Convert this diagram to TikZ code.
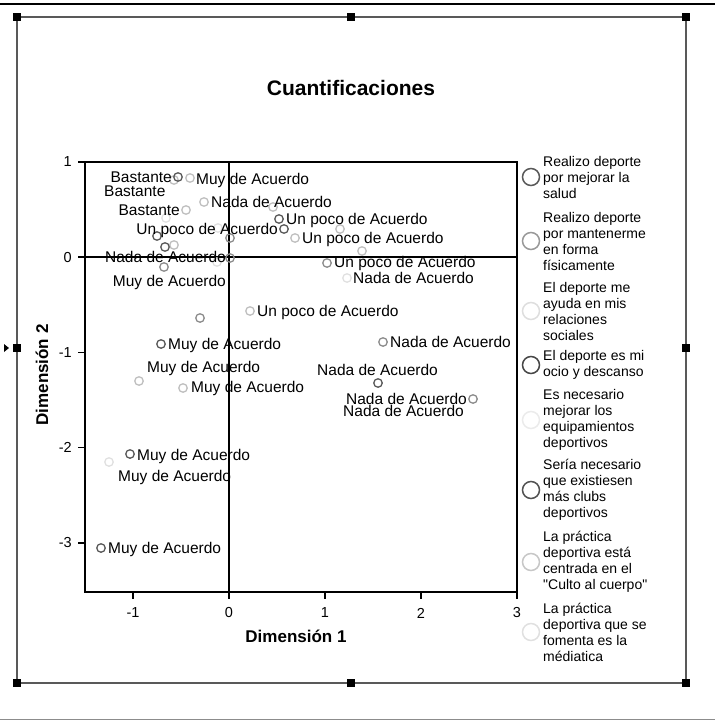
\documentclass[tikz,border=0pt]{standalone}
\usepackage{fontspec}
\setmainfont{Liberation Sans}
\newfontfamily\plainfnt{Liberation Sans}
\newcommand\labfnt{\fontsize{15.5bp}{18bp}\selectfont}
\newcommand\legfnt{\fontsize{14bp}{16bp}\selectfont}
\colorlet{cD}{black!65}
\colorlet{cM}{black!45}
\colorlet{cL}{black!25}
\colorlet{cV}{black!12}
\tikzset{
  pt/.style={circle, draw=#1, line width=1.3bp, minimum size=8.5bp, inner sep=0pt},
  lgd/.style={circle, draw=#1, line width=1.5bp, minimum size=17bp, inner sep=0pt},
  lab/.style={font=\labfnt, inner sep=0pt, text height=11bp, text depth=0bp},
  ltext/.style={font=\legfnt, align=left, inner sep=0pt, anchor=west},
  handle/.style={fill=black, minimum size=8bp, inner sep=0pt},
  axl/.style={line width=1.6bp, black},
  tickl/.style={font=\fontsize{14.5bp}{16bp}\selectfont, inner sep=0pt},
}
\begin{document}
\begin{tikzpicture}[x=1bp,y=-1bp]
\useasboundingbox (0,0) rectangle (715,720);
% screen edges
\draw[line width=2.6bp] (0,4) -- (715,4);
\draw[line width=1bp, black!45] (0,719) -- (715,719);
% selection frame
\draw[line width=1.4bp, black!65] (17,17) rectangle (686,683);
\node[handle] (h1) at (17,17) {};
\node[handle] (h2) at (351,17) {};
\node[handle] (h3) at (686,17) {};
\node[handle] (h4) at (17,348) {};
\node[handle] (h5) at (686,348) {};
\node[handle] (h6) at (17,683) {};
\node[handle] (h7) at (351,683) {};
\node[handle] (h8) at (686,683) {};
\fill (4,344) -- (9,348) -- (4,352) -- cycle;
% title
\node[font=\bfseries\fontsize{21bp}{24bp}\selectfont] (title) at (351,88) {Cuantificaciones};
% plot box and axes
\draw[axl] (85,162) rectangle (517,592);
\draw[axl] (229,162) -- (229,592);
\draw[axl] (85,257) -- (517,257);
% y ticks
\foreach \yy/\tx in {162/1, 257.2/0, 352.4/-1, 447.6/-2, 542.8/-3}{
  \draw[axl] (78,\yy) -- (85,\yy);
  \node[tickl, anchor=east] at (72,\yy) {\tx};
}
% x ticks
\foreach \xx/\tx in {133/-1, 229/0, 325/1, 421/2, 517/3}{
  \draw[axl] (\xx,592) -- (\xx,599);
  \node[tickl] at (\xx,613) {\tx};
}
\node[font=\bfseries\fontsize{17bp}{20bp}\selectfont] (xt) at (296,636) {Dimensión 1};
\node[font=\bfseries\fontsize{17bp}{20bp}\selectfont, rotate=90] (yt) at (42,375) {Dimensión 2};
% points
\node[pt=cL] (p2) at (174,180) {};
\node[pt=cD] (p1) at (178,177) {};
\node[pt=cL] (p3) at (190,178) {};
\node[pt=cL] (p4) at (186,210) {};
\node[pt=cL] (p5) at (204,202) {};
\node[pt=cL] (p6) at (273,207) {};
\node[pt=cD] (p7) at (279,219) {};
\node[pt=cD] (p8) at (284,229) {};
\node[pt=cL] (p9) at (340,229) {};
\node[pt=cL] (p10) at (295,238) {};
\node[pt=cM] (p11) at (230,238) {};
\node[pt=cV] (p12) at (218,228) {};
\node[pt=cV] (p13) at (166,218) {};
\node[pt=cD] (p14) at (157,236) {};
\node[pt=cL] (p16) at (174,245) {};
\node[pt=cD] (p15) at (165,247) {};
\node[pt=cM] (p17) at (230,258) {};
\node[pt=cV] (p18) at (217,262) {};
\node[pt=cM] (p19) at (164,267) {};
\node[pt=cL] (p20) at (362,251) {};
\node[pt=cM] (p21) at (327,263) {};
\node[pt=cV] (p22) at (347,278) {};
\node[pt=cL] (p23) at (250,311) {};
\node[pt=cM] (p24) at (200,318) {};
\node[pt=cD] (p25) at (161,344) {};
\node[pt=cL] (p26) at (139,381) {};
\node[pt=cL] (p27) at (183,388) {};
\node[pt=cM] (p28) at (383,342) {};
\node[pt=cD] (p29) at (378,383) {};
\node[pt=cM] (p30) at (473,399) {};
\node[pt=cD] (p31) at (130,454) {};
\node[pt=cV] (p32) at (109,462) {};
\node[pt=cD] (p33) at (101,548) {};
% labels
\node[lab, anchor=east] (l1) at (172,177) {Bastante};
\node[lab, anchor=west] (l2) at (196,179) {Muy de Acuerdo};
\node[lab, anchor=west] (l3) at (104,191) {Bastante};
\node[lab, anchor=east] (l4) at (180,210) {Bastante};
\node[lab, anchor=west] (l5) at (211,202) {Nada de Acuerdo};
\node[lab, anchor=west] (l6) at (286,219) {Un poco de Acuerdo};
\node[lab, anchor=east] (l7) at (278,229) {Un poco de Acuerdo};
\node[lab, anchor=west] (l8) at (302,238) {Un poco de Acuerdo};
\node[lab, anchor=east] (l9) at (226,257) {Nada de Acuerdo};
\node[lab, anchor=east] (l10) at (226,281) {Muy de Acuerdo};
\node[lab, anchor=west] (l11) at (334,262) {Un poco de Acuerdo};
\node[lab, anchor=west] (l12) at (353,278) {Nada de Acuerdo};
\node[lab, anchor=west] (l13) at (257,311) {Un poco de Acuerdo};
\node[lab, anchor=west] (l14) at (168,344) {Muy de Acuerdo};
\node[lab, anchor=west] (l15) at (147,367) {Muy de Acuerdo};
\node[lab, anchor=west] (l16) at (191,387) {Muy de Acuerdo};
\node[lab, anchor=west] (l17) at (390,342) {Nada de Acuerdo};
\node[lab, anchor=west] (l18) at (317,370) {Nada de Acuerdo};
\node[lab, anchor=east] (l19) at (467,399) {Nada de Acuerdo};
\node[lab, anchor=west] (l20) at (343,411) {Nada de Acuerdo};
\node[lab, anchor=west] (l21) at (137,455) {Muy de Acuerdo};
\node[lab, anchor=west] (l22) at (118,476) {Muy de Acuerdo};
\node[lab, anchor=west] (l23) at (108,548) {Muy de Acuerdo};
% legend
\node[lgd=black!65] (g1) at (531,177) {};
\node[ltext] (t1) at (543,177) {Realizo deporte\\por mejorar la\\salud};
\node[lgd=black!40] (g2) at (531,241) {};
\node[ltext] (t2) at (543,241) {Realizo deporte\\por mantenerme\\en forma\\físicamente};
\node[lgd=black!13] (g3) at (531,311) {};
\node[ltext] (t3) at (543,311) {El deporte me\\ayuda en mis\\relaciones\\sociales};
\node[lgd=black!72] (g4) at (531,365) {};
\node[ltext] (t4) at (543,365) {El deporte es mi\\ocio y descanso};
\node[lgd=black!8] (g5) at (531,420) {};
\node[ltext] (t5) at (543,420) {Es necesario\\mejorar los\\equipamientos\\deportivos};
\node[lgd=black!68] (g6) at (531,490) {};
\node[ltext] (t6) at (543,490) {Sería necesario\\que existiesen\\más clubs\\deportivos};
\node[lgd=black!22] (g7) at (531,562) {};
\node[ltext] (t7) at (543,562) {La práctica\\deportiva está\\centrada en el\\{\plainfnt"}Culto al cuerpo{\plainfnt"}};
\node[lgd=black!12] (g8) at (531,632) {};
\node[ltext] (t8) at (543,632) {La práctica\\deportiva que se\\fomenta es la\\médiatica};
\end{tikzpicture}
\end{document}
